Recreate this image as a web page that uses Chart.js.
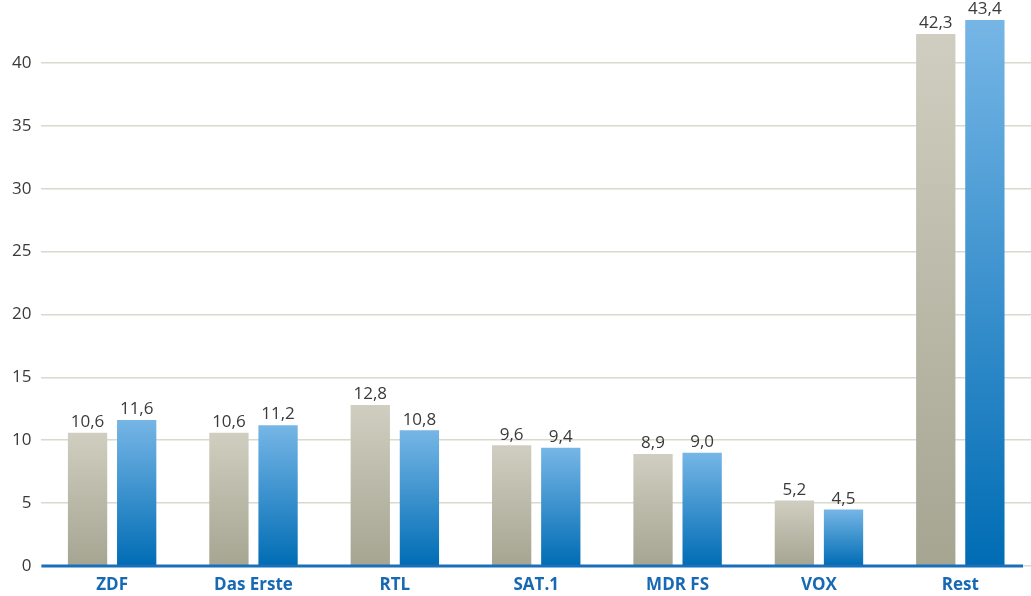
<!DOCTYPE html>
<html lang="de">
<head>
    <meta charset="UTF-8">
    <title>Marktanteile</title>
    <script src="https://cdn.jsdelivr.net/npm/chart.js"></script>
    <style>
        body {
            margin: 0;
            background: #ffffff;
        }
        .wrap {
            width: 1031px;
            height: 596px;
            position: relative;
        }
    </style>
</head>
<body>
    <div class="wrap">
        <canvas id="shareChart"></canvas>
    </div>

    <script>
        // Data
        const channels = ['ZDF', 'Das Erste', 'RTL', 'SAT.1', 'MDR FS', 'VOX', 'Rest'];
        const greySeries = [10.6, 10.6, 12.8, 9.6, 8.9, 5.2, 42.3];
        const blueSeries = [11.6, 11.2, 10.8, 9.4, 9.0, 4.5, 43.4];
        const yTicks = [0, 5, 10, 15, 20, 25, 30, 35, 40];

        const fontFamily = '"Open Sans", "DejaVu Sans", sans-serif';

        // vertical gradient per bar, light at the top, dark at the base
        function barGradient(top, bottom) {
            return function (context) {
                const chart = context.chart;
                const y = chart.scales.y;
                if (!chart.chartArea || !y) return bottom;
                const yTop = y.getPixelForValue(context.raw);
                const yBase = y.getPixelForValue(0);
                const g = chart.ctx.createLinearGradient(0, yTop, 0, yBase);
                g.addColorStop(0, top);
                g.addColorStop(1, bottom);
                return g;
            };
        }

        // value labels above bars, with German decimal comma
        const valueLabels = {
            id: 'valueLabels',
            afterDatasetsDraw(chart) {
                const ctx = chart.ctx;
                ctx.save();
                ctx.font = '17px ' + fontFamily;
                ctx.fillStyle = '#3a3a3a';
                ctx.textAlign = 'center';
                ctx.textBaseline = 'bottom';
                chart.data.datasets.forEach((ds, i) => {
                    chart.getDatasetMeta(i).data.forEach((bar, j) => {
                        const txt = ds.data[j].toFixed(1).replace('.', ',');
                        ctx.fillText(txt, bar.x, bar.y - 2);
                    });
                });
                ctx.restore();
            }
        };

        // thick blue baseline
        const baseLine = {
            id: 'baseLine',
            afterDatasetsDraw(chart) {
                const ctx = chart.ctx;
                const area = chart.chartArea;
                const y0 = chart.scales.y.getPixelForValue(0);
                ctx.save();
                ctx.strokeStyle = '#1a6fba';
                ctx.lineWidth = 3;
                ctx.beginPath();
                ctx.moveTo(area.left, y0);
                ctx.lineTo(area.right - 8, y0);
                ctx.stroke();
                ctx.restore();
            }
        };

        const chart = new Chart(document.getElementById('shareChart'), {
            type: 'bar',
            data: {
                labels: channels,
                datasets: [{
                    data: greySeries,
                    backgroundColor: barGradient('#cfcec0', '#a6a592'),
                    categoryPercentage: 0.695,
                    barPercentage: 0.8
                }, {
                    data: blueSeries,
                    backgroundColor: barGradient('#76b6e6', '#006cb4'),
                    categoryPercentage: 0.695,
                    barPercentage: 0.8
                }]
            },
            options: {
                responsive: true,
                maintainAspectRatio: false,
                animation: false,
                layout: {
                    padding: { top: 0, right: 0, left: 2, bottom: 0 }
                },
                plugins: {
                    legend: { display: false },
                    tooltip: { enabled: false }
                },
                scales: {
                    x: {
                        afterFit(axis) {
                            axis.height = 30;
                        },
                        grid: { display: false, drawTicks: false },
                        border: { display: false },
                        ticks: {
                            color: '#1669b3',
                            padding: 8,
                            font: { family: fontFamily, size: 17, weight: 'bold', lineHeight: 1.3 }
                        }
                    },
                    y: {
                        min: 0,
                        max: 45,
                        afterBuildTicks(axis) {
                            axis.ticks = yTicks.map(v => ({ value: v }));
                        },
                        afterFit(axis) {
                            axis.paddingTop = 0;
                            axis.paddingBottom = 0;
                        },
                        grid: {
                            color: '#d9d9cc',
                            lineWidth: 1.5,
                            drawTicks: false
                        },
                        border: { display: false },
                        ticks: {
                            color: '#3a3a3a',
                            padding: 10,
                            font: { family: fontFamily, size: 17 }
                        }
                    }
                }
            },
            plugins: [valueLabels, baseLine]
        });
    </script>
</body>
</html>
